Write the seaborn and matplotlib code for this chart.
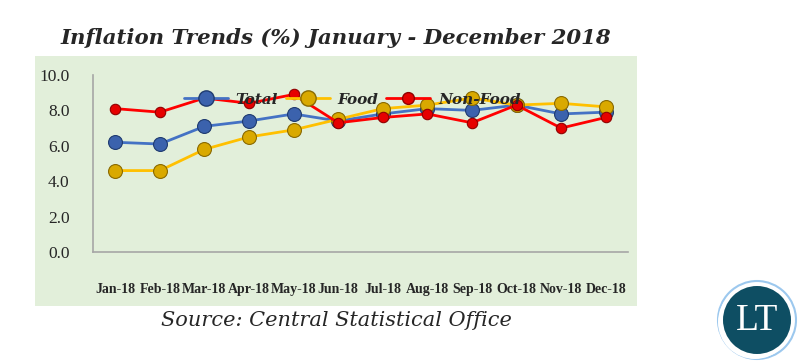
import pandas as pd
import matplotlib.pyplot as plt
import seaborn as sns
from matplotlib.patches import Rectangle, Circle

# Chart values
months = ['Jan-18', 'Feb-18', 'Mar-18', 'Apr-18', 'May-18', 'Jun-18',
          'Jul-18', 'Aug-18', 'Sep-18', 'Oct-18', 'Nov-18', 'Dec-18']
total = [6.2, 6.1, 7.1, 7.4, 7.8, 7.4, 7.8, 8.1, 8.0, 8.3, 7.8, 7.9]
food = [4.6, 4.6, 5.8, 6.5, 6.9, 7.5, 8.1, 8.3, 8.7, 8.3, 8.4, 8.2]
non_food = [8.1, 7.9, 8.7, 8.4, 8.9, 7.3, 7.6, 7.8, 7.3, 8.3, 7.0, 7.6]
y_ticks = [0.0, 2.0, 4.0, 6.0, 8.0, 10.0]

df = pd.DataFrame({'month': months, 'Total': total, 'Food': food, 'Non-Food': non_food})
long_df = df.melt(id_vars='month', var_name='series', value_name='value')

sns.set_style('white')
plt.rcParams['font.family'] = ['Liberation Serif', 'DejaVu Serif']

fig = plt.figure(figsize=(8, 3.62), dpi=100)
fig.patch.set_facecolor('white')

# green panel behind the chart
fig.patches.append(Rectangle((35 / 800, 1 - 306 / 362), 602 / 800, 250 / 362,
                             transform=fig.transFigure, facecolor='#e2efda',
                             edgecolor='none', zorder=-5))

ax = fig.add_axes([93 / 800, 1 - 252 / 362, 535 / 800, 177 / 362])
ax.set_facecolor('none')
ax.set_zorder(2)

colors = {'Total': '#4472c4', 'Food': '#ffc000', 'Non-Food': '#ff0000'}
faces = {'Total': '#3b62ad', 'Food': '#d9a900', 'Non-Food': '#e60000'}
edges = {'Total': '#1f3b70', 'Food': '#8a6a00', 'Non-Food': '#900000'}
sizes = {'Total': 10, 'Food': 10, 'Non-Food': 7.5}

for name in ['Total', 'Food', 'Non-Food']:
    sub = long_df[long_df['series'] == name]
    sns.lineplot(data=sub, x='month', y='value', sort=False, ax=ax,
                 color=colors[name], linewidth=2, marker='o',
                 markersize=sizes[name], markerfacecolor=faces[name],
                 markeredgecolor=edges[name], markeredgewidth=0.8,
                 label=name, legend=False)

ax.set_xlim(-0.5, 11.5)
ax.set_ylim(0, 10)
ax.set_yticks(y_ticks)
ax.set_yticklabels([f'{v:.1f}' for v in y_ticks], fontsize=12.5)
ax.tick_params(axis='y', length=0, pad=17)
ax.tick_params(axis='x', length=0, pad=22)
for lab in ax.get_xticklabels():
    lab.set_fontsize(10)
    lab.set_fontweight('bold')
ax.set_xlabel('')
ax.set_ylabel('')
for s in ['top', 'right']:
    ax.spines[s].set_visible(False)
for s in ['left', 'bottom']:
    ax.spines[s].set_color('#a6a6a6')
    ax.spines[s].set_linewidth(1.2)

# legend
handles = [plt.Line2D([], [], color=colors[n], lw=2, marker='o', markersize=sizes[n] + 1,
                      markerfacecolor=faces[n], markeredgecolor=edges[n]) for n in colors]
leg = fig.legend(handles, list(colors), loc='center', bbox_to_anchor=(0.44, 0.725), ncol=3,
                 frameon=False, handlelength=2.9, columnspacing=0.5, handletextpad=0.5,
                 prop={'family': 'DejaVu Serif', 'style': 'italic', 'weight': 'bold', 'size': 11})
leg.set_zorder(3)

# title and source
fig.text(0.42, 1 - 38 / 362, 'Inflation Trends (%) January - December 2018',
         ha='center', va='center', fontsize=15.3, fontweight='bold', style='italic',
         family='DejaVu Serif')
fig.text(0.421, 1 - 321 / 362, 'Source: Central Statistical Office',
         ha='center', va='center', fontsize=15, style='italic', family='DejaVu Serif')

# LT logo
lax = fig.add_axes([712 / 800, 0, 88 / 800, 88 / 362])
lax.set_xlim(0, 88)
lax.set_ylim(0, 88)
lax.set_aspect('equal')
lax.axis('off')
lax.add_patch(Circle((45, 42), 39, facecolor='none', edgecolor='#9cc8ee', lw=1.5))
lax.add_patch(Circle((43, 40), 37, facecolor='white', edgecolor='none'))
lax.add_patch(Circle((45, 42), 34, facecolor='#0e4e63', edgecolor='none'))
lax.text(45, 41, 'LT', color='white', fontsize=27, ha='center', va='center',
         family='Liberation Serif')

fig.savefig('out.png', dpi=100)
